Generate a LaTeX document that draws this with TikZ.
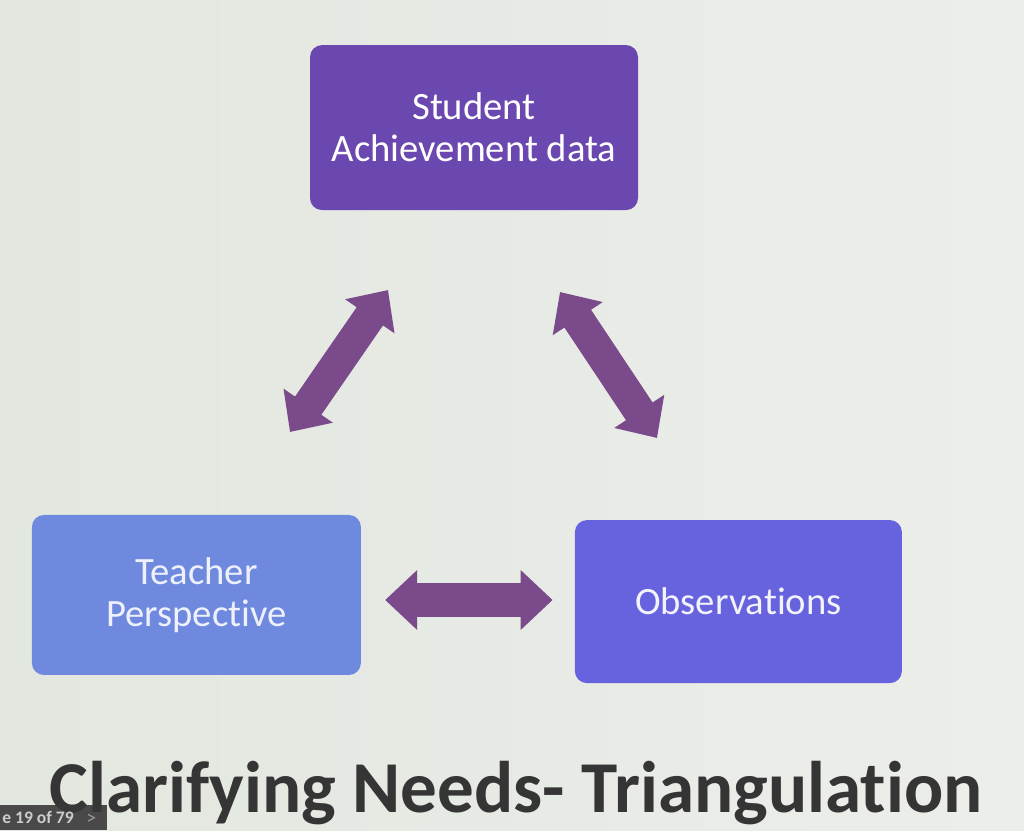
\documentclass[tikz,border=0pt]{standalone}
\usepackage{fontspec}
\setmainfont{Carlito}[Ligatures=NoCommon]
\usetikzlibrary{arrows.meta}
\definecolor{slidebg}{HTML}{E2E7DF}
\definecolor{slidebgr}{HTML}{ECEEEA}
\definecolor{topbox}{HTML}{6A48B0}
\definecolor{leftbox}{HTML}{6F89DE}
\definecolor{rightbox}{HTML}{6762DE}
\definecolor{arrowpurple}{HTML}{7A4A8A}
\definecolor{titlegray}{HTML}{353535}
\tikzset{
  box/.style = {rounded corners=0.3cm, inner sep=0pt, align=center,
                font=\fontsize{27.5}{30}\selectfont},
  dblarrow/.style = {draw=arrowpurple, line width=0.8cm,
                     {Triangle[width=1.45cm,length=0.8cm]}-{Triangle[width=1.45cm,length=0.8cm]}},
}
\begin{document}
\begin{tikzpicture}
			\shade[left color=slidebg, right color=slidebgr] (0, 0) rectangle (25.6, 20.75);
			\useasboundingbox (0, 0) rectangle (25.6, 20.75);
			\node [box, fill=topbox, text=white, minimum width=8.2cm, minimum height=4.125cm] (student) at (11.85, 17.56) {Student\\Achievement data};
			\node [box, fill=leftbox, text=white!88!leftbox, minimum width=8.225cm, minimum height=4cm] (teacher) at (4.91, 5.875) {Teacher\\Perspective};
			\node [box, fill=rightbox, text=white!92!rightbox, minimum width=8.175cm, minimum height=4.075cm] (obs) at (18.46, 5.71) {Observations};
			\coordinate (tl) at (7.25, 9.95);
			\coordinate (ts) at (9.7, 13.5);
			\coordinate (sr) at (14.0, 13.45);
			\coordinate (rs) at (16.425, 9.8);
			\draw [dblarrow] (tl) to (ts);
			\draw [dblarrow] (sr) to (rs);
			\draw [dblarrow, line width=0.85cm, shorten <=0.6cm, shorten >=0.55cm] (teacher.east |- 0,5.75) to (obs.west |- 0,5.75);
			\node [anchor=base, text=titlegray, font=\fontsize{52}{56}\selectfont\bfseries] (title) at (12.9, 0.45) {Clarifying Needs- Triangulation};
			\fill [black!78, opacity=0.9] (0, 0) rectangle (2.675, 0.625);
			\node [anchor=base west, text=black!20, font=\fontsize{12.5}{13}\selectfont\bfseries, inner sep=0pt] (slide) at (0.05, 0.17) {e 19 of 79};
			\node [anchor=base west, text=black!40, font=\fontsize{14}{14}\selectfont, inner sep=0pt] (next) at (2.15, 0.14) {>};
		\end{tikzpicture}
\end{document}
